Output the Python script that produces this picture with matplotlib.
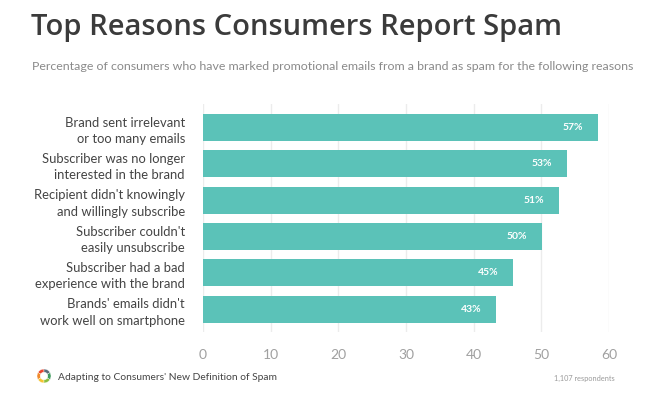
import matplotlib.pyplot as plt

# data
reasons = [
    "Brand sent irrelevant\nor too many emails",
    "Subscriber was no longer\ninterested in the brand",
    "Recipient didn't knowingly\nand willingly subscribe",
    "Subscriber couldn't\neasily unsubscribe",
    "Subscriber had a bad\nexperience with the brand",
    "Brands' emails didn't\nwork well on smartphone",
]
bar_values = [58.3, 53.8, 52.6, 50.1, 45.8, 43.3]
pct_labels = ["57%", "53%", "51%", "50%", "45%", "43%"]
x_ticks = [0, 10, 20, 30, 40, 50, 60]
icon_colors = ["#e8462f", "#f08a2c", "#f5c431", "#8bbf3f", "#3e9a5d", "#5a6b7a"]

plt.rcParams['font.family'] = ['Lato', 'DejaVu Sans']

fig = plt.figure(figsize=(6.49, 4.12), dpi=100)
fig.patch.set_facecolor("white")

ax = fig.add_axes([0.3128, 0.1942, 0.6256, 0.5534])
ypos = list(range(len(reasons)))
ax.barh(ypos, bar_values, height=0.74, color="#5bc2b8", zorder=3)
ax.set_ylim(5.63, -0.65)
ax.set_xlim(0, 60)

for y, v, lab in zip(ypos, bar_values, pct_labels):
    ax.text(v - 2.2, y, lab, ha="right", va="center", color="white",
            fontsize=7.5, fontweight="bold", zorder=4)

ax.set_xticks(x_ticks)
ax.set_xticklabels([str(t) for t in x_ticks], color="#a0a0a0", fontsize=10)
ax.set_yticks(ypos)
ax.set_yticklabels(reasons, color="#444444", fontsize=9.4, linespacing=1.45)
ax.tick_params(axis="both", length=0)
ax.tick_params(axis="x", pad=12)
ax.tick_params(axis="y", pad=13)
ax.xaxis.grid(True, color="#ececec", linewidth=1, zorder=0)
for s in ax.spines.values():
    s.set_visible(False)

fig.text(31 / 649, 1 - 28 / 412, "Top Reasons Consumers Report Spam", fontsize=21,
         fontweight="semibold", color="#3b3b3b", va="center", ha="left",
         family=["Open Sans", "DejaVu Sans"])
fig.text(32 / 649, 1 - 67 / 412,
         "Percentage of consumers who have marked promotional emails from a brand as spam for the following reasons",
         fontsize=8.9, color="#8a8a8a", va="center", ha="left")

# footer
icon = fig.add_axes([37 / 649, 1 - 383 / 412, 14 / 649, 14 / 412])
icon.pie([1] * len(icon_colors), colors=icon_colors, startangle=90, radius=1.2,
         wedgeprops=dict(width=0.55, edgecolor="white", linewidth=0.3))
icon.set_xlim(-1.2, 1.2)
icon.set_ylim(-1.2, 1.2)
icon.set_aspect("equal")
fig.text(58 / 649, 1 - 377 / 412, "Adapting to Consumers' New Definition of Spam",
         fontsize=7.4, color="#444444", va="center", ha="left")
fig.text(615 / 649, 1 - 378 / 412, "1,107 respondents", fontsize=5.3,
         color="#9a9a9a", va="center", ha="right")

fig.savefig("out.png", dpi=100)
